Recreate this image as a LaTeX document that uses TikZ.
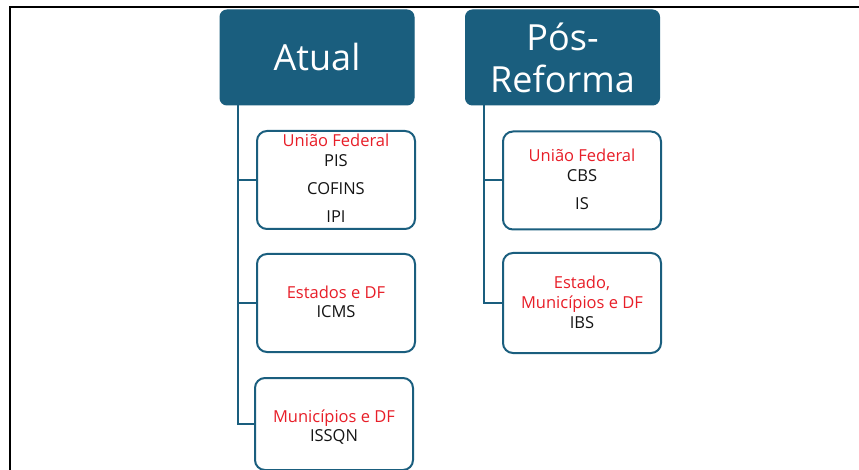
\documentclass[tikz,border=0pt]{standalone}
\usepackage{fontspec}
\setmainfont{Open Sans}
\definecolor{teal}{RGB}{26,94,126}
\definecolor{rd}{RGB}{232,30,40}
\definecolor{tx}{RGB}{20,20,20}
\begin{document}
\begin{tikzpicture}[x=1pt,y=-1pt,
  header/.style={draw=teal,fill=teal,rounded corners=7pt,line width=1pt,minimum width=194pt,minimum height=95pt,
    text=white,font=\fontsize{36}{42}\selectfont,align=center,inner sep=0pt},
  leaf/.style={draw=teal,fill=white,rounded corners=10pt,line width=2pt,minimum width=158pt,minimum height=98pt,inner sep=0pt},
  conn/.style={draw=teal,line width=2pt},
  red/.style={text=rd,font=\fontsize{16.5}{19}\selectfont,anchor=base,inner sep=0pt},
  blk/.style={text=tx,font=\fontsize{16.5}{19}\selectfont,anchor=base,inner sep=0pt},
  frame/.style={draw=black,line width=2pt}]
\useasboundingbox (0,0) rectangle (859,470);
% frame
\coordinate (fTop) at (10,7);
\coordinate (fRight) at (859,7);
\coordinate (fBot) at (10,470);
\draw[frame] (fBot) -- (fTop) -- (fRight);
% headers
\node[header] (atual) at (317,57.5) {Atual};
\node[header] (pos) at (562.5,57.5) {Pós-\\Reforma};
% left leaves
\node[leaf] (b1) at (336,180) {};
\node[leaf] (b2) at (336,303) {};
\node[leaf,minimum height=92pt] (b3) at (334,424) {};
% right leaves
\node[leaf] (c1) at (582,180.5) {};
\node[leaf,minimum height=100pt] (c2) at (582,303) {};
% connectors
\coordinate (aTrunk) at (238,105);
\coordinate (pTrunk) at (484,105);
\draw[conn] (aTrunk) |- (b1.west);
\draw[conn] (aTrunk) |- (b2.west);
\draw[conn] (aTrunk) |- (b3.west);
\draw[conn] (pTrunk) |- (c1.west);
\draw[conn] (pTrunk) |- (c2.west);
% texts left
\node[red] (t11) at (336,146.7) {União Federal};
\node[blk] (t12) at (336,166.7) {PIS};
\node[blk] (t13) at (336,195) {COFINS};
\node[blk] (t14) at (336,222.7) {IPI};
\node[red] (t21) at (336,298.3) {Estados e DF};
\node[blk] (t22) at (336,317.7) {ICMS};
\node[red] (t31) at (334,422.7) {Municípios e DF};
\node[blk] (t32) at (334,441) {ISSQN};
% texts right
\node[red] (u11) at (582,161.7) {União Federal};
\node[blk] (u12) at (582,181.7) {CBS};
\node[blk] (u13) at (582,209.3) {IS};
\node[red] (u21) at (582,288.3) {Estado,};
\node[red] (u22) at (582,308.7) {Municípios e DF};
\node[blk] (u23) at (582,328.7) {IBS};
\end{tikzpicture}
\end{document}
